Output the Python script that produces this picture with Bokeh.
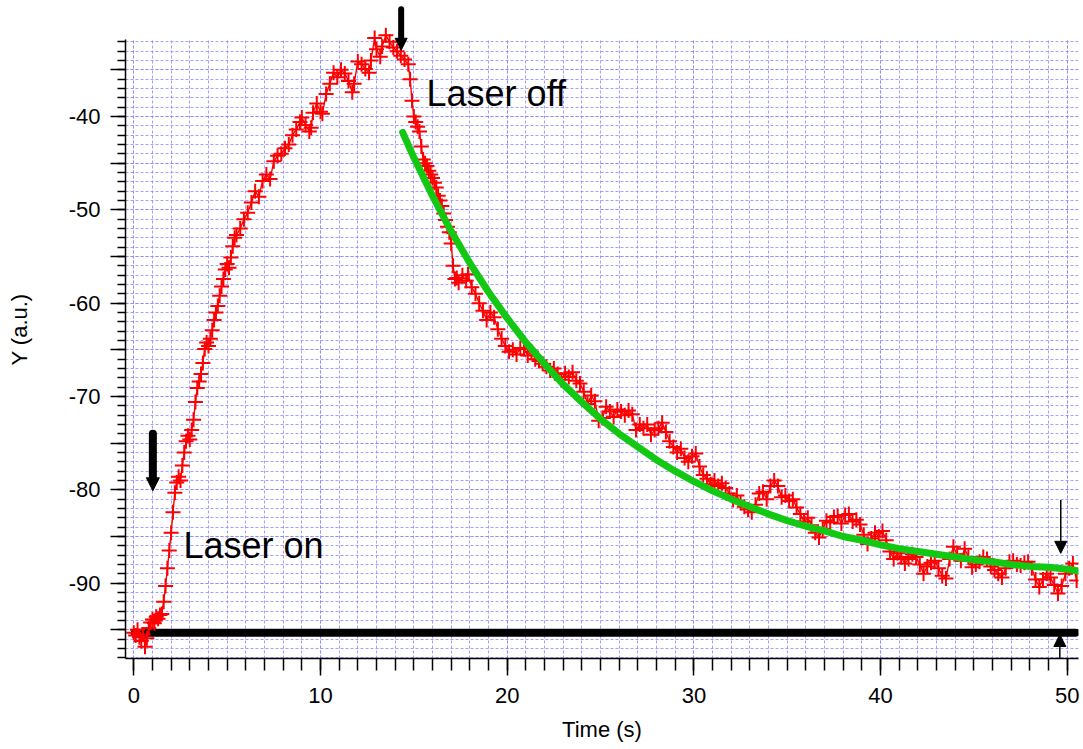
from bokeh.plotting import figure
from bokeh.models import Range1d, FixedTicker, Arrow, NormalHead, Label
from bokeh.embed import file_html
from bokeh.resources import INLINE

# ---- measured signal (red) ----
time_s = [0.0, 0.1, 0.2, 0.3, 0.4, 0.5, 0.6, 0.7, 0.8, 0.9, 1.0, 1.1, 1.2, 1.3, 1.4,
          1.5, 1.6, 1.7, 1.8, 1.9, 2.0, 2.1, 2.2, 2.3, 2.4, 2.5, 2.6, 2.7, 2.8, 2.9,
          3.0, 3.1, 3.2, 3.3, 3.4, 3.5, 3.6, 3.7, 3.8, 3.9, 4.0, 4.1, 4.2, 4.3, 4.4,
          4.5, 4.6, 4.7, 4.8, 4.9, 5.0, 5.1, 5.2, 5.3, 5.4, 5.5, 5.7, 5.9, 6.1, 6.3,
          6.5, 6.7, 6.9, 7.1, 7.3, 7.5, 7.7, 7.9, 8.1, 8.3, 8.5, 8.7, 8.9, 9.0, 9.2,
          9.4, 9.5, 9.6, 9.8, 10.0, 10.1, 10.3, 10.5, 10.7, 10.9, 11.1, 11.3, 11.5, 11.7, 11.8,
          12.0, 12.2, 12.4, 12.6, 12.7, 12.9, 13.0, 13.2, 13.3, 13.5, 13.7, 13.9, 14.1, 14.3, 14.5,
          14.7, 14.8, 14.9, 15.0, 15.1, 15.2, 15.3, 15.4, 15.5, 15.6, 15.7, 15.8, 15.9, 16.0, 16.1,
          16.2, 16.3, 16.4, 16.5, 16.6, 16.7, 16.8, 16.9, 17.0, 17.1, 17.2, 17.3, 17.4, 17.6, 17.8,
          17.9, 18.1, 18.3, 18.5, 18.7, 18.9, 19.1, 19.3, 19.5, 19.7, 19.9, 20.1, 20.3, 20.5, 20.7,
          20.9, 21.1, 21.3, 21.5, 21.7, 21.9, 22.1, 22.3, 22.5, 22.7, 22.9, 23.1, 23.3, 23.5, 23.7,
          23.9, 24.1, 24.3, 24.5, 24.7, 24.9, 25.1, 25.3, 25.5, 25.7, 25.9, 26.1, 26.3, 26.5, 26.7,
          26.9, 27.1, 27.3, 27.5, 27.7, 27.9, 28.1, 28.3, 28.5, 28.7, 28.9, 29.1, 29.3, 29.5, 29.7,
          29.9, 30.1, 30.3, 30.5, 30.7, 30.9, 31.1, 31.3, 31.5, 31.7, 31.9, 32.1, 32.3, 32.5, 32.7,
          32.9, 33.1, 33.3, 33.5, 33.7, 33.9, 34.1, 34.3, 34.5, 34.7, 34.9, 35.1, 35.3, 35.5, 35.7,
          35.9, 36.1, 36.3, 36.5, 36.7, 36.9, 37.1, 37.3, 37.5, 37.7, 37.9, 38.1, 38.3, 38.5, 38.7,
          38.9, 39.1, 39.3, 39.5, 39.7, 39.9, 40.1, 40.3, 40.5, 40.7, 40.9, 41.1, 41.3, 41.5, 41.7,
          41.9, 42.1, 42.3, 42.5, 42.7, 42.9, 43.1, 43.3, 43.5, 43.7, 43.9, 44.1, 44.3, 44.5, 44.7,
          44.9, 45.1, 45.3, 45.5, 45.7, 45.9, 46.1, 46.3, 46.5, 46.7, 46.9, 47.1, 47.3, 47.5, 47.7,
          47.9, 48.1, 48.3, 48.5, 48.7, 48.9, 49.1, 49.3, 49.5, 49.7, 49.9, 50.1, 50.3, 50.5]
signal = [-95.3, -95.6, -95.0, -95.8, -96.2, -95.5, -96.8, -95.9, -94.8, -94.2, -93.9, -94.3, -93.6, -93.8, -93.4,
          -93.3, -92.0, -90.3, -88.4, -86.5, -84.6, -82.4, -80.3, -79.2, -78.6, -79.0, -77.4, -76.0, -74.8, -74.2,
          -74.6, -73.6, -72.5, -70.6, -69.1, -68.4, -67.6, -66.4, -64.9, -64.2, -64.6, -63.8, -62.9, -61.8, -61.0,
          -60.3, -59.2, -58.2, -57.4, -56.4, -55.8, -56.2, -55.1, -53.9, -53.0, -52.7, -52.0, -51.0, -50.3, -49.2,
          -48.0, -48.6, -46.9, -46.2, -46.7, -44.8, -44.2, -44.0, -43.4, -43.0, -42.0, -41.4, -40.6, -40.1, -40.9,
          -41.6, -41.2, -39.6, -38.6, -39.5, -39.7, -37.6, -36.5, -35.3, -35.8, -35.0, -35.4, -36.2, -37.4, -36.5,
          -34.1, -34.4, -34.9, -35.3, -34.0, -31.6, -32.8, -33.6, -32.5, -31.3, -32.0, -32.6, -33.0, -33.5, -33.9,
          -34.4, -36.0, -38.3, -40.0, -40.6, -41.1, -41.6, -43.2, -44.6, -45.0, -45.3, -45.8, -46.2, -46.6, -47.1,
          -47.6, -48.5, -49.0, -49.6, -50.4, -51.1, -51.8, -52.4, -53.6, -56.0, -57.4, -57.3, -57.8, -57.0, -57.6,
          -56.9, -58.3, -59.0, -60.0, -60.8, -61.8, -61.0, -61.5, -62.8, -63.8, -64.6, -65.2, -65.0, -65.5, -64.8,
          -64.9, -65.6, -65.2, -66.0, -66.2, -66.5, -66.8, -67.2, -67.0, -67.6, -68.2, -67.5, -67.9, -67.4, -68.3,
          -68.6, -69.5, -70.8, -69.9, -70.5, -72.6, -72.3, -71.1, -71.6, -72.2, -71.4, -71.6, -72.0, -71.5, -71.9,
          -73.6, -73.0, -73.4, -73.0, -74.1, -73.6, -73.4, -72.8, -73.8, -74.8, -75.4, -76.0, -75.6, -76.6, -77.0,
          -76.4, -76.1, -77.5, -78.4, -78.8, -79.4, -79.0, -79.6, -79.3, -79.8, -80.4, -81.1, -80.6, -81.4, -81.8,
          -82.1, -82.4, -81.6, -80.4, -80.2, -81.0, -79.6, -79.0, -79.6, -80.8, -80.6, -81.2, -81.0, -81.9, -82.6,
          -83.4, -83.0, -83.8, -84.6, -85.1, -84.2, -83.3, -83.5, -82.9, -82.8, -83.6, -82.7, -82.6, -83.4, -83.2,
          -83.7, -84.8, -85.8, -85.2, -84.6, -85.0, -84.4, -85.4, -86.6, -87.4, -86.8, -87.2, -87.9, -87.4, -86.9,
          -87.2, -88.0, -89.0, -88.2, -87.8, -87.6, -88.4, -89.2, -89.5, -87.4, -86.1, -86.9, -87.6, -86.3, -87.2,
          -88.3, -88.0, -87.7, -87.2, -87.4, -88.2, -88.6, -89.0, -89.4, -88.4, -87.7, -87.6, -88.0, -88.1, -87.8,
          -87.7, -88.4, -89.6, -90.4, -89.6, -89.0, -89.4, -90.2, -91.1, -90.3, -89.0, -88.4, -87.9, -89.7]

# ---- exponential fit (green) ----
fit_time = [14.4, 15, 16, 17, 18, 19, 20, 21, 22, 23, 24, 25, 26, 27, 28, 29, 30, 31, 32,
            33, 34, 35, 36, 37, 38, 39, 40, 41, 42, 43, 44, 45, 46, 47, 48, 49, 50, 50.6]
fit_value = [-41.7, -44.4, -48.5, -52.3, -55.7, -58.8, -61.6, -64.2, -66.5, -68.7, -70.6, -72.4,
             -74.0, -75.4, -76.8, -78.0, -79.1, -80.1, -81.0, -81.8, -82.6, -83.3, -83.9, -84.4,
             -85.0, -85.4, -85.9, -86.3, -86.6, -86.9, -87.2, -87.5, -87.7, -88.0, -88.2, -88.3,
             -88.5, -88.7]

# ---- baseline (black) ----
baseline_time = [0.05, 50.45]
baseline_value = [-95.3, -95.3]

# ---- axis ticks ----
x_major_ticks = [0, 10, 20, 30, 40, 50]
x_tick_labels = ["0", "10", "20", "30", "40", "50"]
x_minor_ticks = list(range(0, 51))
y_major_ticks = [-95, -90, -85, -80, -75, -70, -65, -60, -55, -50, -45, -40, -35]
y_tick_labels = ["", "-90", "", "-80", "", "-70", "", "-60", "", "-50", "", "-40", ""]
y_minor_ticks = list(range(-98, -31))

# ---- annotations ----
thick_arrow_x = [1.02, 14.32]
thick_arrow_tail_y = [-74.0, -28.5]
thick_arrow_tip_y = [-80.1, -32.9]
thick_arrow_shaft_w = [8, 6]
thick_arrow_head_px = [13, 12]
thin_arrow_x = [49.65, 49.6]
thin_arrow_tail_y = [-81.1, -101.0]
thin_arrow_tip_y = [-86.8, -95.5]
label_text = ["Laser on", "Laser off"]
label_x = [2.66, 15.68]
label_y = [-86.0, -37.5]
x_title = "Time (s)"
y_title = "Y (a.u.)"

FONT = "Liberation Sans"
Y_LO, Y_HI = -98.07, -27.57
FRAME_H = 658
PX_PER_UNIT_Y = FRAME_H / (Y_HI - Y_LO)

p = figure(width=1083, height=749,
           x_range=Range1d(-0.445, 50.6), y_range=Range1d(Y_LO, Y_HI),
           output_backend="svg", toolbar_location=None,
           min_border_left=125, min_border_right=5, min_border_top=0, min_border_bottom=749 - FRAME_H)
p.outline_line_color = None
p.background_fill_color = "white"

x_ticker = FixedTicker(ticks=x_major_ticks, minor_ticks=x_minor_ticks)
y_ticker = FixedTicker(ticks=y_major_ticks, minor_ticks=y_minor_ticks)
p.xaxis.ticker = x_ticker
p.yaxis.ticker = y_ticker
p.xgrid.ticker = x_ticker
p.ygrid.ticker = y_ticker

grid_color = "#8a8aff"
for g in (p.xgrid, p.ygrid):
    g.grid_line_color = grid_color
    g.grid_line_dash = "3 2"
    g.grid_line_width = 1
    g.grid_line_alpha = 0.8
    g.minor_grid_line_color = grid_color
    g.minor_grid_line_dash = "3 2"
    g.minor_grid_line_width = 1
    g.minor_grid_line_alpha = 0.8
try:
    p.xgrid.cross_bounds = (Y_LO, -31.7)
except Exception:
    pass

p.xaxis.major_label_overrides = {t: s for t, s in zip(x_major_ticks, x_tick_labels)}
p.yaxis.major_label_overrides = {t: s for t, s in zip(y_major_ticks, y_tick_labels)}
p.yaxis.bounds = (Y_LO, -31.7)

for ax in (p.xaxis, p.yaxis):
    ax.axis_line_color = "black"
    ax.axis_line_width = 1.5
    ax.major_tick_line_color = "black"
    ax.major_tick_line_width = 1.5
    ax.minor_tick_line_color = "black"
    ax.minor_tick_line_width = 1.5
    ax.major_tick_in = 0
    ax.minor_tick_in = 0
    ax.major_label_text_font = FONT
    ax.major_label_text_font_size = "22px"
    ax.major_label_text_color = "black"
    ax.axis_label_text_font = FONT
    ax.axis_label_text_font_size = "22px"
    ax.axis_label_text_font_style = "normal"
    ax.axis_label_text_color = "black"

p.xaxis.major_tick_out = 17
p.xaxis.minor_tick_out = 12
p.xaxis.major_label_standoff = 12
p.xaxis.axis_label = x_title
p.xaxis.axis_label_standoff = 11

p.yaxis.major_tick_out = 15
p.yaxis.minor_tick_out = 8
p.yaxis.major_label_standoff = 10
p.yaxis.axis_label = y_title
p.yaxis.axis_label_standoff = 34

# baseline
p.line(baseline_time, baseline_value, line_color="black", line_width=8, line_cap="round")

# signal
p.line(time_s, signal, line_color="red", line_width=1.4)
p.scatter(time_s, signal, marker="cross", size=15, line_color="red", line_width=2)

# fit
p.line(fit_time, fit_value, line_color="#12c812", line_width=7, line_cap="round")

# thick arrows: shaft as segment, head as Arrow annotation
for ax_, ty, hy, w, hp in zip(thick_arrow_x, thick_arrow_tail_y, thick_arrow_tip_y,
                              thick_arrow_shaft_w, thick_arrow_head_px):
    direction = 1 if hy < ty else -1
    base_y = hy + direction * (hp * 0.9) / PX_PER_UNIT_Y
    p.segment(x0=[ax_], y0=[ty], x1=[ax_], y1=[base_y], line_color="black",
              line_width=w, line_cap="round")
    p.add_layout(Arrow(end=NormalHead(size=hp, fill_color="black", line_color="black", line_width=1),
                       x_start=ax_, y_start=base_y + direction * 0.5, x_end=ax_, y_end=hy,
                       line_alpha=0, line_width=0))

# thin arrows
for ax_, ty, hy in zip(thin_arrow_x, thin_arrow_tail_y, thin_arrow_tip_y):
    p.add_layout(Arrow(end=NormalHead(size=12, fill_color="black", line_color="black", line_width=1),
                       x_start=ax_, y_start=ty, x_end=ax_, y_end=hy,
                       line_color="black", line_width=1.5))

for t, lx, ly in zip(label_text, label_x, label_y):
    p.add_layout(Label(x=lx, y=ly, text=t, text_font=FONT, text_font_size="36px",
                       text_color="black", text_baseline="alphabetic", text_align="left"))

open("out.html", "w").write(file_html(p, INLINE))
